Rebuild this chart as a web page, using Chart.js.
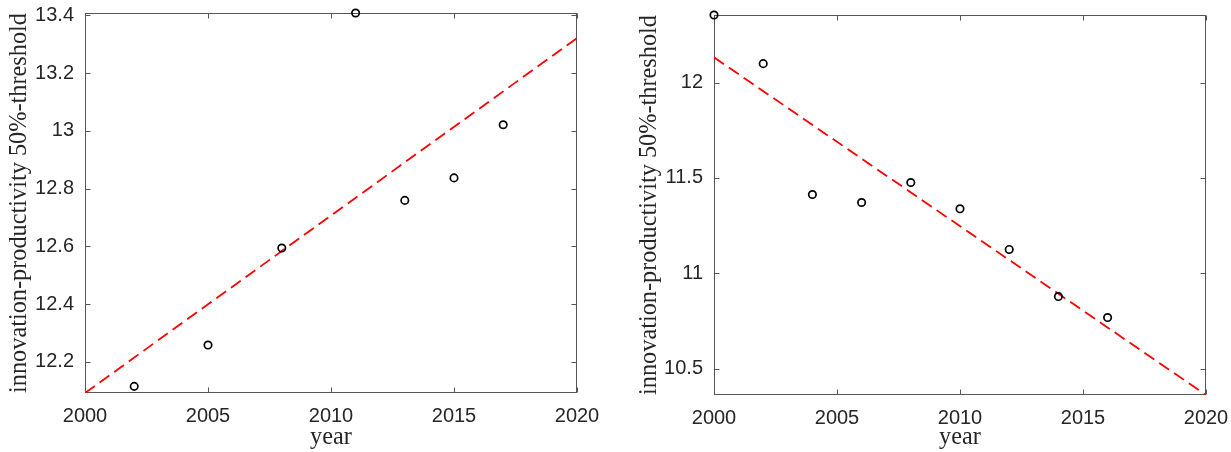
<!DOCTYPE html>
<html>
<head>
<meta charset="utf-8">
<script src="https://cdn.jsdelivr.net/npm/chart.js@4/dist/chart.umd.min.js"></script>
<style>
  html, body { margin: 0; padding: 0; background: #ffffff; }
  #wrap { position: relative; width: 1231px; height: 452px; background: #ffffff; }
  #c1 { position: absolute; left: 0; top: 0; }
  #c2 { position: absolute; left: 600px; top: 0; }
</style>
</head>
<body>
<div id="wrap">
  <canvas id="c1" width="600" height="452"></canvas>
  <canvas id="c2" width="631" height="452"></canvas>
</div>
<script>
// ---- data ----
const xTicks = [2000, 2005, 2010, 2015, 2020];
const xRange = [2000, 2020];

const leftYears = [2002, 2005, 2008, 2011, 2013, 2015, 2017];
const leftValues = [12.115, 12.258, 12.594, 13.408, 12.759, 12.837, 13.021];
const leftFitYears = [2000, 2020];
const leftFitValues = [12.092, 13.321];
const leftYTicks = [12.2, 12.4, 12.6, 12.8, 13, 13.2, 13.4];
const leftYRange = [12.092, 13.408];

const rightYears = [2000, 2002, 2004, 2006, 2008, 2010, 2012, 2014, 2016];
const rightValues = [12.354, 12.099, 11.413, 11.371, 11.476, 11.338, 11.125, 10.878, 10.768];
const rightFitYears = [2000, 2020];
const rightFitValues = [12.132, 10.362];
const rightYTicks = [10.5, 11, 11.5, 12];
const rightYRange = [10.362, 12.354];

const xTitle = 'year';
const yTitle = 'innovation-productivity 50%-threshold';

// ---- styling ----
const TEXT = '#262626';
const FRAME = '#555555';
const tickFont = { family: '"Liberation Sans", Arial, sans-serif', size: 20 };
const titleFont = { family: '"Liberation Serif", "Times New Roman", serif', size: 24.3, lineHeight: 1.2 };

const boxPlugin = {
  id: 'matlabBox',
  beforeDatasetsDraw(chart) {
    const { ctx, chartArea: a, scales } = chart;
    const L = Math.round(a.left) + 0.5, R = Math.round(a.right) - 0.5;
    const T = Math.round(a.top) + 0.5, B = Math.round(a.bottom) - 0.5;
    ctx.save();
    ctx.strokeStyle = FRAME;
    ctx.lineWidth = 1;
    ctx.strokeRect(L, T, R - L, B - T);
    const tl = 5;
    ctx.beginPath();
    scales.x.ticks.forEach(t => {
      const px = Math.round(scales.x.getPixelForValue(t.value)) + 0.5;
      ctx.moveTo(px, B); ctx.lineTo(px, B - tl);
      ctx.moveTo(px, T); ctx.lineTo(px, T + tl);
    });
    scales.y.ticks.forEach(t => {
      const py = Math.round(scales.y.getPixelForValue(t.value)) + 0.5;
      ctx.moveTo(L, py); ctx.lineTo(L + tl, py);
      ctx.moveTo(R, py); ctx.lineTo(R - tl, py);
    });
    ctx.stroke();
    ctx.restore();
  }
};

function fmt(v) { return String(Math.round(v * 100) / 100); }

function makeChart(id, years, values, fitYears, fitValues, yTicks, yRange, layout) {
  const pts = years.map((x, i) => ({ x: x, y: values[i] }));
  const fit = fitYears.map((x, i) => ({ x: x, y: fitValues[i] }));
  return new Chart(document.getElementById(id), {
    type: 'scatter',
    data: {
      datasets: [
        {
          type: 'line',
          data: fit,
          borderColor: '#ff0000',
          borderWidth: 1.8,
          borderDash: [12, 6],
          pointRadius: 0,
          fill: false,
          tension: 0,
          order: 2
        },
        {
          type: 'scatter',
          data: pts,
          pointStyle: 'circle',
          pointRadius: 3.7,
          borderWidth: 1.7,
          borderColor: '#000000',
          backgroundColor: 'rgba(0,0,0,0)',
          clip: false,
          order: 1
        }
      ]
    },
    options: {
      responsive: false,
      animation: false,
      events: [],
      layout: { padding: layout.padding },
      plugins: { legend: { display: false }, tooltip: { enabled: false } },
      scales: {
        x: {
          type: 'linear',
          min: xRange[0], max: xRange[1],
          grid: { display: false },
          border: { display: false },
          afterBuildTicks(s) { s.ticks = xTicks.map(v => ({ value: v })); },
          afterFit(s) { s.height = layout.xHeight; s.paddingLeft = 0; s.paddingRight = 0; },
          ticks: { color: TEXT, font: tickFont, padding: layout.xTickPad, maxRotation: 0, autoSkip: false, callback: v => fmt(v) },
          title: { display: true, text: xTitle, color: TEXT, font: titleFont, padding: 0 }
        },
        y: {
          type: 'linear',
          min: yRange[0], max: yRange[1],
          grid: { display: false },
          border: { display: false },
          afterBuildTicks(s) { s.ticks = yTicks.map(v => ({ value: v })); },
          afterFit(s) { s.width = layout.yWidth; s.paddingTop = 0; s.paddingBottom = 0; },
          ticks: { color: TEXT, font: tickFont, padding: layout.yTickPad, autoSkip: false, callback: v => fmt(v) },
          title: { display: true, text: yTitle, color: TEXT, font: titleFont, padding: 0 }
        }
      }
    },
    plugins: [boxPlugin]
  });
}

makeChart('c1', leftYears, leftValues, leftFitYears, leftFitValues, leftYTicks, leftYRange, {
  padding: { left: 5, top: 13, right: 23, bottom: 0 },
  yWidth: 80, xHeight: 59, xTickPad: 3, yTickPad: 3
});
makeChart('c2', rightYears, rightValues, rightFitYears, rightFitValues, rightYTicks, rightYRange, {
  padding: { left: 35, top: 15, right: 25, bottom: 0 },
  yWidth: 79, xHeight: 57, xTickPad: 3, yTickPad: 3
});
</script>
</body>
</html>
